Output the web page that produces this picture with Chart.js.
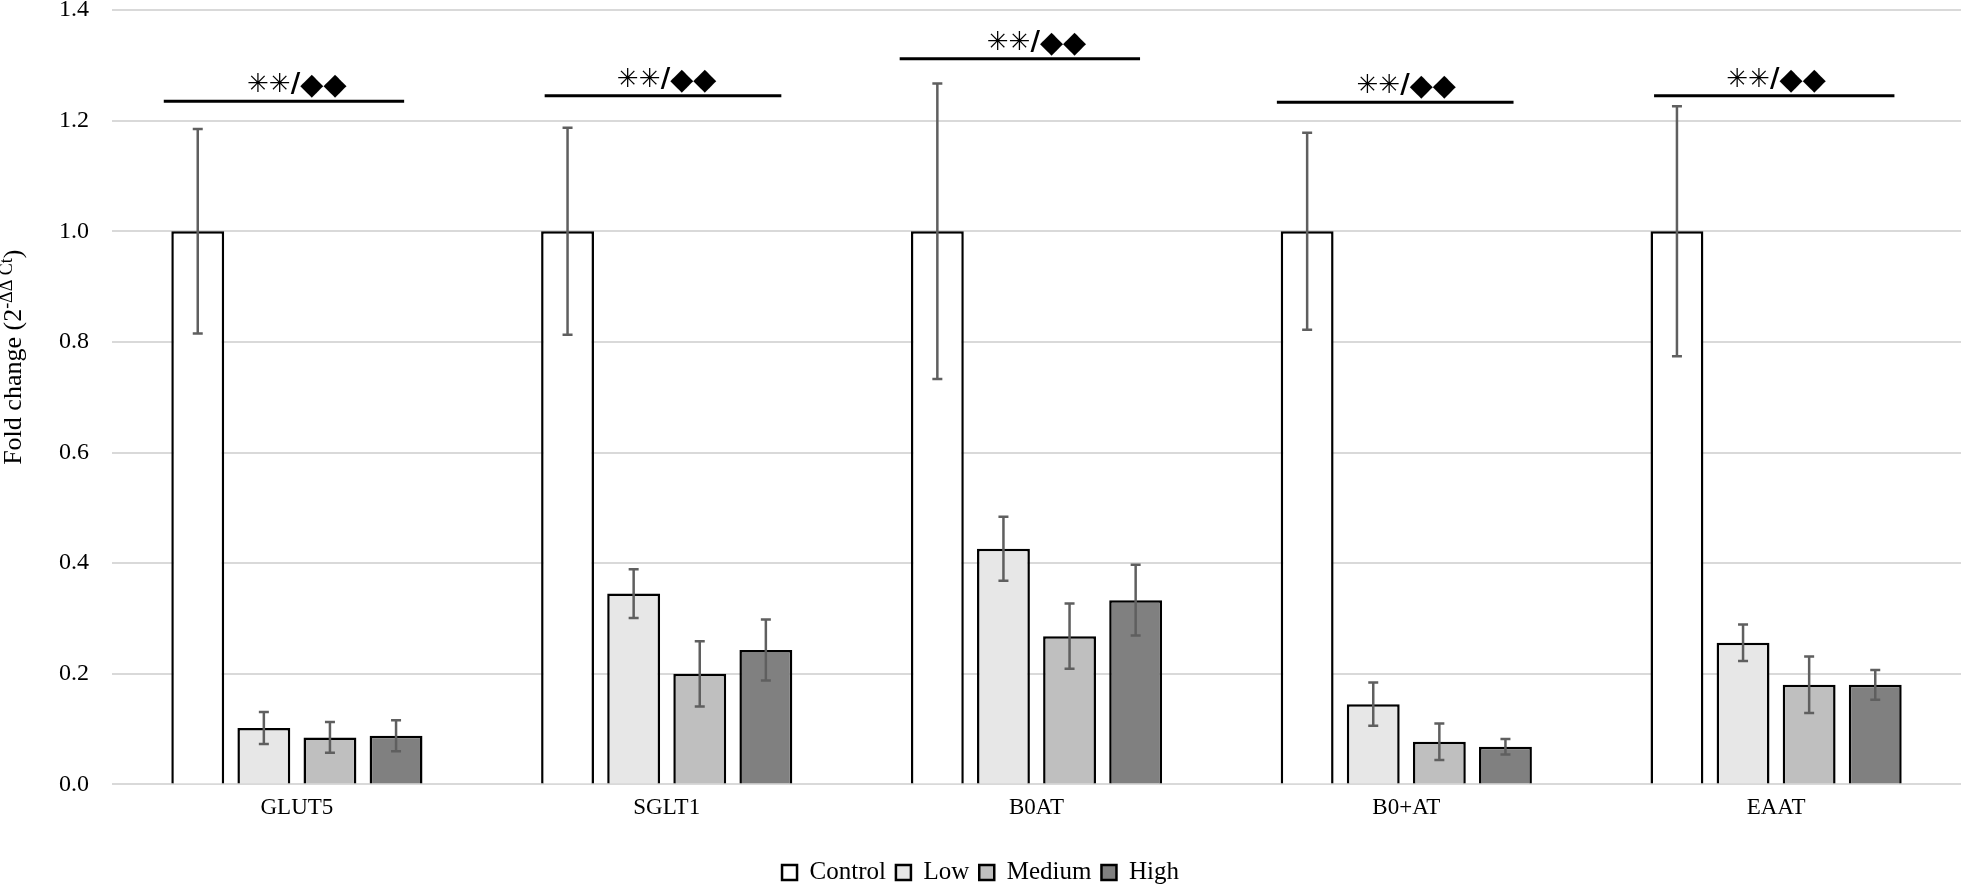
<!DOCTYPE html>
<html>
<head>
<meta charset="utf-8">
<script src="https://cdn.jsdelivr.net/npm/chart.js@4.4.1/dist/chart.umd.min.js"></script>
<style>
  html, body { margin: 0; padding: 0; background: #fff; }
</style>
</head>
<body>
<canvas id="chart" width="1961" height="887"></canvas>
<script>
const genes = ["GLUT5", "SGLT1", "B0AT", "B0+AT", "EAAT"];

const controlMean = [1.0, 1.0, 1.0, 1.0, 1.0];
const controlErr = [0.185, 0.187, 0.267, 0.178, 0.226];
const lowMean = [0.102, 0.345, 0.426, 0.145, 0.256];
const lowErr = [0.029, 0.044, 0.058, 0.039, 0.033];
const mediumMean = [0.085, 0.200, 0.268, 0.077, 0.180];
const mediumErr = [0.028, 0.059, 0.059, 0.033, 0.051];
const highMean = [0.088, 0.243, 0.333, 0.068, 0.180];
const highErr = [0.028, 0.055, 0.064, 0.014, 0.027];

// significance brackets: height in data units, ends in category units
const sigLevel = [1.235, 1.245, 1.312, 1.233, 1.245];
const sigFrom = [-0.36, -0.33, -0.37, -0.35, -0.33];
const sigTo = [0.29, 0.31, 0.28, 0.29, 0.32];
const sigStars = "\u2733\u2733/";
const sigDiamonds = "\u25C6\u25C6";

const yMin = 0;
const yMax = 1.4;
const yStep = 0.2;

Chart.defaults.font.family = "'Liberation Serif', 'Times New Roman', serif";
Chart.defaults.color = "#000";

// error bars drawn over each bar
const errorBars = {
  id: "errorBars",
  afterDatasetsDraw(chart) {
    const ctx = chart.ctx;
    const y = chart.scales.y;
    ctx.save();
    ctx.strokeStyle = "#5f5f5f";
    ctx.lineWidth = 2.5;
    chart.data.datasets.forEach((ds, i) => {
      chart.getDatasetMeta(i).data.forEach((bar, j) => {
        let v = ds.data[j];
        let e = ds.err[j];
        let top = y.getPixelForValue(v + e);
        let bot = y.getPixelForValue(v - e);
        ctx.beginPath();
        ctx.moveTo(bar.x, top);
        ctx.lineTo(bar.x, bot);
        ctx.moveTo(bar.x - 5, top);
        ctx.lineTo(bar.x + 5, top);
        ctx.moveTo(bar.x - 5, bot);
        ctx.lineTo(bar.x + 5, bot);
        ctx.stroke();
      });
    });
    ctx.restore();
  },
};

const sigMarks = {
  id: "sigMarks",
  afterDraw(chart) {
    const ctx = chart.ctx;
    const x = chart.scales.x;
    const y = chart.scales.y;
    const cw = x.width / genes.length;
    ctx.save();
    genes.forEach((g, j) => {
      let cx = x.getPixelForValue(j);
      let yy = y.getPixelForValue(sigLevel[j]);
      ctx.strokeStyle = "#000";
      ctx.lineWidth = 3;
      ctx.beginPath();
      ctx.moveTo(cx + sigFrom[j] * cw, yy);
      ctx.lineTo(cx + sigTo[j] * cw, yy);
      ctx.stroke();
      ctx.fillStyle = "#000";
      ctx.textAlign = "left";
      ctx.textBaseline = "alphabetic";
      ctx.font = "bold 26px 'DejaVu Sans'";
      let ws = ctx.measureText(sigStars).width;
      ctx.font = "30px 'DejaVu Sans'";
      let wd = ctx.measureText(sigDiamonds).width;
      let sx = cx - (ws + wd) / 2;
      ctx.font = "bold 26px 'DejaVu Sans'";
      ctx.fillText(sigStars, sx, yy - 9);
      ctx.font = "30px 'DejaVu Sans'";
      ctx.fillText(sigDiamonds, sx + ws, yy - 7);
    });

    // y axis title with superscript
    let area = chart.chartArea;
    ctx.translate(14, (area.top + area.bottom) / 2 - 40);
    ctx.rotate(-Math.PI / 2);
    ctx.textBaseline = "middle";
    ctx.textAlign = "left";
    let main = "Fold change (2";
    let sup = "-\u0394\u0394 Ct";
    let end = ")";
    ctx.font = "26px 'Liberation Serif'";
    let w1 = ctx.measureText(main).width;
    let w3 = ctx.measureText(end).width;
    ctx.font = "18px 'Liberation Serif'";
    let w2 = ctx.measureText(sup).width;
    let start = -(w1 + w2 + w3) / 2;
    ctx.font = "26px 'Liberation Serif'";
    ctx.fillText(main, start, 0);
    ctx.font = "18px 'Liberation Serif'";
    ctx.fillText(sup, start + w1, -7);
    ctx.font = "26px 'Liberation Serif'";
    ctx.fillText(end, start + w1 + w2, 0);
    ctx.restore();
  },
};

new Chart(document.getElementById("chart"), {
  type: "bar",
  data: {
    labels: genes,
    datasets: [
      { label: "Control", data: controlMean, err: controlErr, backgroundColor: "#ffffff" },
      { label: "Low", data: lowMean, err: lowErr, backgroundColor: "#e7e7e7" },
      { label: "Medium", data: mediumMean, err: mediumErr, backgroundColor: "#bfbfbf" },
      { label: "High", data: highMean, err: highErr, backgroundColor: "#808080" },
    ],
  },
  options: {
    responsive: false,
    animation: false,
    devicePixelRatio: 1,
    layout: { padding: { top: 0, right: 0, bottom: -8, left: 0 } },
    datasets: {
      bar: {
        borderColor: "#000",
        borderWidth: 2.5,
        barPercentage: 0.8,
        categoryPercentage: 0.715,
      },
    },
    plugins: {
      legend: {
        position: "bottom",
        labels: {
          font: { size: 25 },
          boxWidth: 15,
          boxHeight: 15,
          padding: 10,
          color: "#000",
        },
      },
      tooltip: { enabled: false },
    },
    scales: {
      x: {
        grid: { display: false },
        border: { display: false },
        ticks: { font: { size: 23 }, padding: 2, color: "#000" },
        afterFit(scale) {
          scale.height += 26;
        },
      },
      y: {
        min: yMin,
        max: yMax,
        grid: { color: "#d9d9d9", lineWidth: 2, drawTicks: false },
        border: { display: false },
        ticks: {
          stepSize: yStep,
          font: { size: 24 },
          padding: 23,
          color: "#000",
          callback: (v) => v.toFixed(1),
        },
        afterFit(scale) {
          scale.width = 112;
          scale.paddingTop = 10;
          scale.paddingBottom = 10;
        },
      },
    },
  },
  plugins: [errorBars, sigMarks],
});
</script>
</body>
</html>
